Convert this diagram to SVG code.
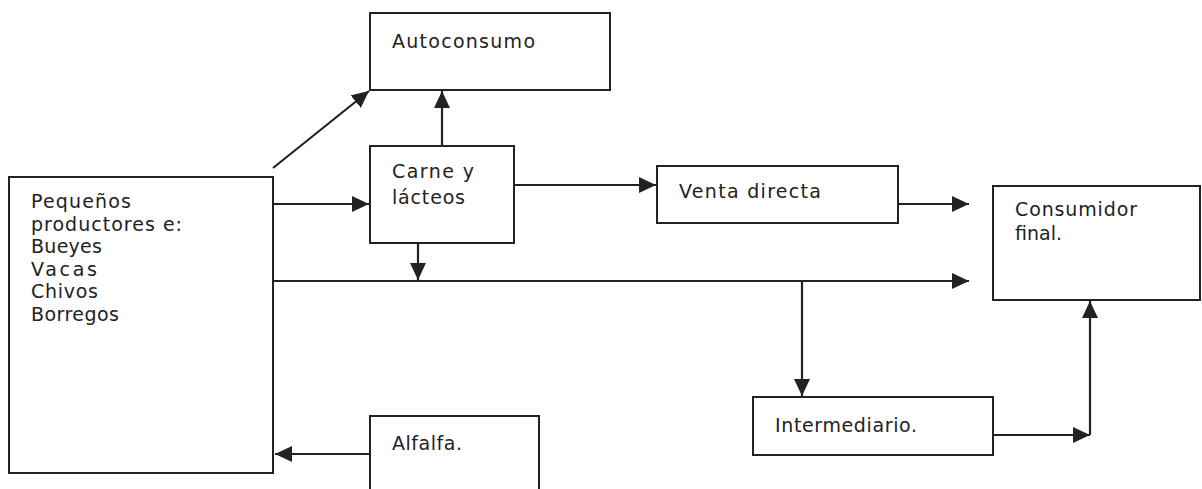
<svg xmlns="http://www.w3.org/2000/svg" width="1202" height="489" viewBox="0 0 1202 489">
<style>
.box{fill:#fff;stroke:#222;stroke-width:2}
.lbl{font-family:"DejaVu Sans","Liberation Sans",sans-serif;font-size:19px;fill:#222}
.con{fill:none;stroke:#222;stroke-width:2.2;marker-end:url(#ah)}
.ln{fill:none;stroke:#222;stroke-width:2}
</style>
<defs>
<marker id="ah" markerUnits="userSpaceOnUse" markerWidth="17" markerHeight="16" refX="17" refY="8" orient="auto">
<path d="M0,0 L17,8 L0,16 z" fill="#222"/>
</marker>
</defs>
<rect width="1202" height="489" fill="#fff"/>
<g id="connectors">
<path class="con" d="M273,168 L369,91"/>
<path class="con" d="M442,146 L442,91"/>
<path class="con" d="M273,204 L369,204"/>
<path class="con" d="M514,185 L656,185"/>
<path class="con" d="M418,243 L418,280"/>
<path class="con" d="M898,204 L969,204"/>
<path class="con" d="M273,281 L969,281"/>
<path class="con" d="M802,281 L802,396"/>
<path class="con" d="M993,435 L1090,435"/>
<path class="con" d="M1090,435 L1090,301"/>
<path class="con" d="M370,454 L275,454"/>
</g>
<g id="autoconsumo">
<rect class="box" x="370" y="13" width="240" height="77"/>
<text class="lbl" x="392" y="48" textLength="143" lengthAdjust="spacing">Autoconsumo</text>
</g>
<g id="carne">
<rect class="box" x="370" y="146" width="144" height="97"/>
<text class="lbl" x="392" y="178" textLength="82" lengthAdjust="spacing">Carne y</text>
<text class="lbl" x="392" y="204" textLength="73" lengthAdjust="spacing">lácteos</text>
</g>
<g id="venta">
<rect class="box" x="657" y="166" width="241" height="57"/>
<text class="lbl" x="679" y="198" textLength="142" lengthAdjust="spacing">Venta directa</text>
</g>
<g id="consumidor">
<rect class="box" x="993" y="186" width="207" height="114"/>
<text class="lbl" x="1015" y="216" textLength="122" lengthAdjust="spacing">Consumidor</text>
<text class="lbl" x="1015" y="240">final.</text>
</g>
<g id="pequenos">
<rect class="box" x="9" y="177" width="264" height="296"/>
<text class="lbl" x="31" y="208" textLength="100" lengthAdjust="spacing">Pequeños</text>
<text class="lbl" x="31" y="231" textLength="151" lengthAdjust="spacing">productores e:</text>
<text class="lbl" x="31" y="253" textLength="71" lengthAdjust="spacing">Bueyes</text>
<text class="lbl" x="31" y="276" textLength="66" lengthAdjust="spacing">Vacas</text>
<text class="lbl" x="31" y="298" textLength="67" lengthAdjust="spacing">Chivos</text>
<text class="lbl" x="31" y="321" textLength="88" lengthAdjust="spacing">Borregos</text>
</g>
<g id="intermediario">
<rect class="box" x="753" y="397" width="240" height="58"/>
<text class="lbl" x="775" y="432" textLength="142" lengthAdjust="spacing">Intermediario.</text>
</g>
<g id="alfalfa">
<path class="ln" d="M370,489 L370,416 L539,416 L539,489"/>
<text class="lbl" x="392" y="450" textLength="70" lengthAdjust="spacing">Alfalfa.</text>
</g>
</svg>
